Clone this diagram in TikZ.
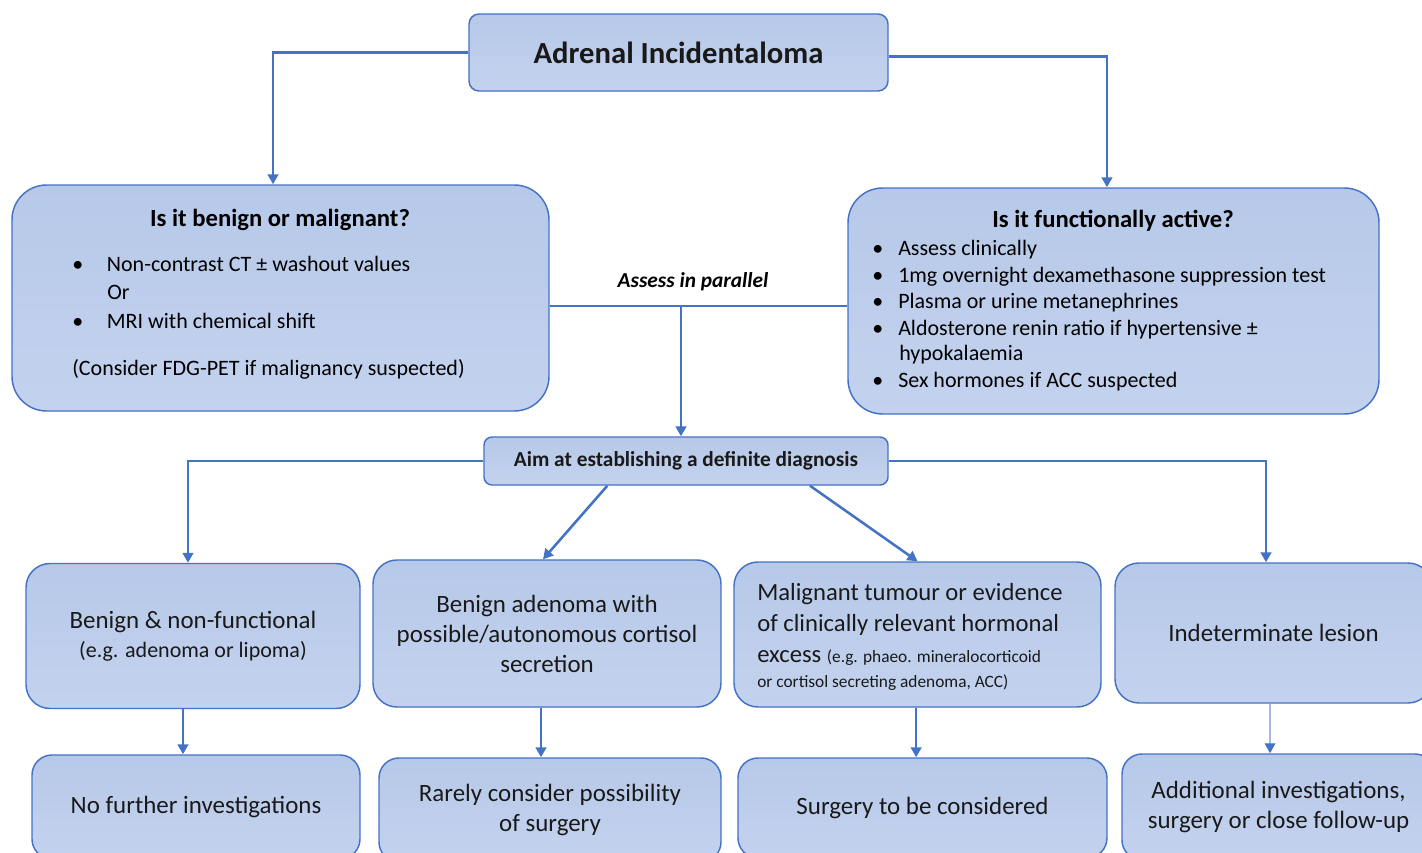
\documentclass[tikz,border=0pt]{standalone}
\usepackage{fontspec}
\setmainfont{Carlito}
\usetikzlibrary{arrows.meta}
\definecolor{edgeblue}{HTML}{4472C4}
\definecolor{filltop}{HTML}{B7C9E9}
\definecolor{fillmid}{HTML}{A9BEE4}
\definecolor{fillbot}{HTML}{C3D2EE}
\definecolor{paleblue}{HTML}{A6BBE2}
\newcommand{\itembul}[1]{\makebox[#1][l]{\textbullet}}

\begin{document}
\begin{tikzpicture}[x=0.75pt, y=-0.75pt, >={Triangle[length=7.5pt, width=8pt]},
    boxdim/.style 2 args={minimum width=#1*0.75pt, minimum height=#2*0.75pt}]
			\tikzstyle{box}=[draw=edgeblue, line width=1.1pt, top color=filltop, middle color=fillmid, bottom color=fillbot, inner sep=0pt, align=center, text=black!90]
			\tikzstyle{head}=[inner sep=0pt, font=\fontsize{18.5}{22}\selectfont\bfseries]
			\tikzstyle{item}=[inner sep=0pt, anchor=west, font=\fontsize{16.5}{20}\selectfont]
			\tikzstyle{rowtext}=[font=\fontsize{18.7}{22.5}\selectfont]
			\tikzstyle{link}=[draw=edgeblue, line width=1.9pt, ->]
			\tikzstyle{thinlink}=[draw=paleblue, line width=0.9pt, -{Triangle[length=7.5pt, width=8pt, color=edgeblue]}]
			
			\useasboundingbox (0,0) rectangle (1422,853);
			
			% Draw top and question boxes
			\node[box, boxdim={419}{77}, rounded corners=7.5pt, font=\fontsize{23}{27}\selectfont\bfseries] (incid) at (678.5,52.5) {Adrenal Incidentaloma};
			\node[box, boxdim={537}{226}, rounded corners=26pt] (malig) at (280.5,298) {};
			\node[box, boxdim={531}{226}, rounded corners=26pt] (func) at (1113.5,301) {};
			\node[box, boxdim={404}{48}, rounded corners=6pt, font=\fontsize{16}{19}\selectfont\bfseries] (diag) at (686,461) {Aim at establishing a definite diagnosis};
			
			% Text of the question boxes
			\node[head] (maligQ) at (280,220) {Is it benign or malignant?};
			\node[item] (ct) at (72,264) {\itembul{26pt}Non-contrast CT ± washout values};
			\node[item] (or) at (107,292) {Or};
			\node[item] (mri) at (72,321) {\itembul{26pt}MRI with chemical shift};
			\node[item] (pet) at (72,369) {(Consider FDG-PET if malignancy suspected)};
			
			\node[head] (funcQ) at (1113,221) {Is it functionally active?};
			\node[item] (clin) at (872,250) {\itembul{19.5pt}Assess clinically};
			\node[item] (dex) at (872,277) {\itembul{19.5pt}1mg overnight dexamethasone suppression test};
			\node[item] (meta) at (872,303) {\itembul{19.5pt}Plasma or urine metanephrines};
			\node[item] (aldo) at (872,330) {\itembul{19.5pt}Aldosterone renin ratio if hypertensive ±};
			\node[item] (hypo) at (899,355) {hypokalaemia};
			\node[item] (sex) at (872,382) {\itembul{19.5pt}Sex hormones if ACC suspected};
			
			% Draw outcome boxes
			\node[box, boxdim={334}{145}, rounded corners=18pt, font=\fontsize{18.7}{22}\selectfont] (benign) at (193,636) {Benign \& non-functional\\ {\fontsize{16.5}{22}\selectfont (e.g. adenoma or lipoma)}};
			\node[box, boxdim={348}{147}, rounded corners=18pt, font=\fontsize{18.7}{22.5}\selectfont] (cortisol) at (547,633.5) {Benign adenoma with\\ possible/autonomous cortisol\\ secretion};
			\node[box, boxdim={367}{145}, rounded corners=18pt] (malign) at (917.5,634.5) {};
			\node[inner sep=0pt, anchor=west, align=left, text=black!90, font=\fontsize{18.5}{23.25}\selectfont] (malignT) at (757,637) {Malignant tumour or evidence\\ of clinically relevant hormonal\\ excess {\fontsize{13}{18}\selectfont (e.g. phaeo. mineralocorticoid}\\[-4.5pt] {\fontsize{13}{18}\selectfont or cortisol secreting adenoma, ACC)}};
			\node[box, boxdim={317}{140}, rounded corners=18pt, rowtext] (indet) at (1273.5,633) {Indeterminate lesion};
			
			\node[box, boxdim={328}{104}, rounded corners=15pt, rowtext] (nofurther) at (196,807) {No further investigations};
			\node[box, boxdim={342}{104}, rounded corners=15pt, rowtext] (rarely) at (550,810) {Rarely consider possibility\\ of surgery};
			\node[box, boxdim={369}{100}, rounded corners=15pt, rowtext] (surgery) at (922.5,808) {Surgery to be considered};
			\node[box, boxdim={313}{106}, rounded corners=15pt, rowtext] (additional) at (1278.5,807) {Additional investigations,\\ surgery or close follow-up};
			
			% Draw arrows
			\draw[link] (incid.west) -| ([xshift=-5.6pt]malig.north);
			\draw[link] ([yshift=-3pt]incid.east) -| ([xshift=-4.9pt]func.north);
			
			\coordinate (par) at (681,306);
			\draw[link, -] ([yshift=-6pt]malig.east) -- ([yshift=-3.75pt]func.west);
			\node[inner sep=0pt, font=\fontsize{16}{19}\selectfont\bfseries\itshape] (parallel) at (693,282) {Assess in parallel};
			\draw[link] (par) -- (par |- diag.north);
			
			\draw[link] (diag.west) -| ([xshift=-3.75pt]benign.north);
			\draw[link] ([xshift=-59pt]diag.south) -- ([xshift=-3pt]cortisol.north);
			\draw[link] ([xshift=93pt]diag.south) -- (malign.north);
			\draw[link] (diag.east) -| ([xshift=-5.6pt]indet.north);
			
			\coordinate (s1) at ([xshift=-7.5pt]benign.south);
			\coordinate (s2) at ([xshift=-4.5pt]cortisol.south);
			\coordinate (s3) at ([xshift=-1pt]malign.south);
			\coordinate (s4) at ([xshift=-2.6pt]indet.south);
			\draw[link] (s1) -- (s1 |- nofurther.north);
			\draw[link] (s2) -- (s2 |- rarely.north);
			\draw[link] (s3) -- (s3 |- surgery.north);
			\draw[thinlink] (s4) -- (s4 |- additional.north);
			
		\end{tikzpicture}
\end{document}
